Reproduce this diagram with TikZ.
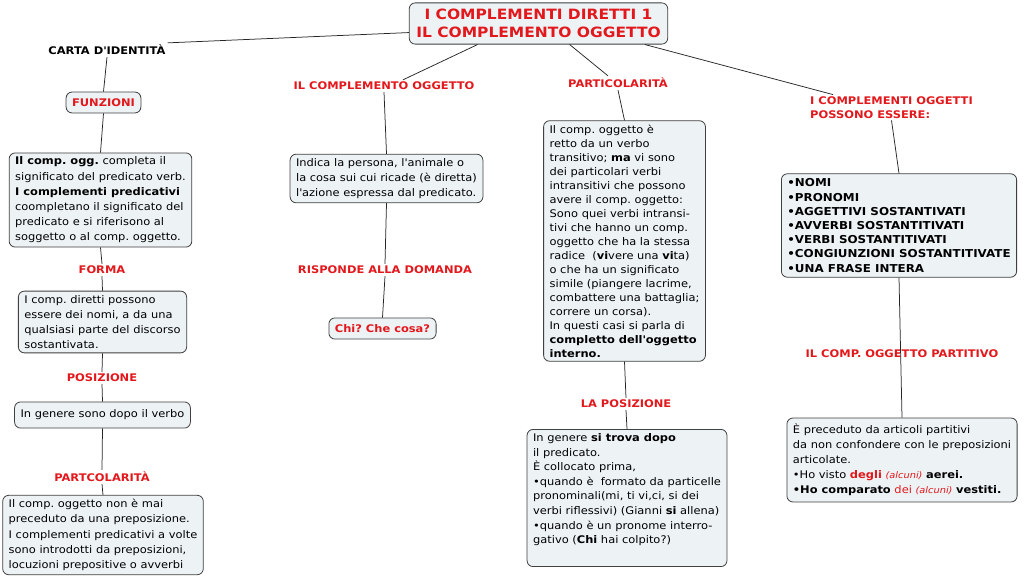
\documentclass[tikz,border=0pt]{standalone}
\usepackage{fontspec}
\setmainfont{DejaVu Sans}[FakeStretch=1.09]
\usetikzlibrary{positioning,calc}
\definecolor{mapred}{RGB}{226,24,28}
\definecolor{boxfill}{RGB}{237,242,245}
\definecolor{boxline}{RGB}{64,64,64}
\newcommand{\ap}{\textquotesingle}

\begin{document}
\frenchspacing
\begin{tikzpicture}[x=1pt,y=-1pt,
  box/.style={draw=boxline, fill=boxfill, rounded corners=6pt, line width=0.8pt,
    align=left, font=\fontsize{10.5}{15.2}\selectfont, inner xsep=6pt, inner ysep=4pt},
  onebox/.style={box, inner ysep=6.5pt},
  lbl/.style={font=\fontsize{10.5}{13.5}\selectfont\bfseries, text=mapred, inner sep=2pt},
  link/.style={draw=black!85, line width=0.75pt}]
\useasboundingbox (0,0) rectangle (1024,578);

% centro
\node[box, align=center, font=\fontsize{14.2}{17.5}\selectfont\bfseries, text=mapred,
  inner ysep=6.5pt, inner xsep=7pt] (title) at (538.5,23.5) {I COMPLEMENTI DIRETTI 1\\IL COMPLEMENTO OGGETTO};

% colonna sinistra
\node[lbl, text=black] (carta) at (107,50) {CARTA D\ap IDENTITÀ};
\node[onebox, font=\fontsize{10.5}{13}\selectfont\bfseries, text=mapred] (funz) at (103.5,102.5) {FUNZIONI};
\node[box] (def) at (100.5,200) {\textbf{Il comp. ogg.} completa il\\significato del predicato verb.\\\textbf{I complementi predicativi}\\coompletano il significato del\\predicato e si riferisono al\\soggetto o al comp. oggetto.};
\node[lbl] (forma) at (102,270) {FORMA};
\node[box] (nomi) at (102.5,322) {I comp. diretti possono\\essere dei nomi, a da una\\qualsiasi parte del discorso\\sostantivata.};
\node[lbl] (posiz) at (102,378) {POSIZIONE};
\node[onebox, inner ysep=8pt] (dopo) at (102.5,415) {In genere sono dopo il verbo};
\node[lbl] (partc) at (102,477) {PARTCOLARITÀ};
\node[box] (prep) at (103,535) {Il comp. oggetto non è mai\\preceduto da una preposizione.\\I complementi predicativi a volte\\sono introdotti da preposizioni,\\locuzioni prepositive o avverbi};

% il complemento oggetto
\node[lbl] (cog) at (384,86) {IL COMPLEMENTO OGGETTO};
\node[box] (indica) at (386.5,178.5) {Indica la persona, l\ap animale o\\la cosa sui cui ricade (è diretta)\\l\ap azione espressa dal predicato.};
\node[lbl] (risp) at (385,270) {RISPONDE ALLA DOMANDA};
\node[onebox, font=\fontsize{10.5}{13}\selectfont\bfseries, text=mapred] (chi) at (382.5,328.5) {Chi? Che cosa?};

% particolarita
\node[lbl] (part) at (618,83) {PARTICOLARITÀ};
\node[box, font=\fontsize{10.5}{14}\selectfont] (retto) at (624.5,241) {Il comp. oggetto è\\retto da un verbo\\transitivo; \textbf{ma} vi sono\\dei particolari verbi\\intransitivi che possono\\avere il comp. oggetto:\\Sono quei verbi intransi-\\tivi che hanno un comp.\\oggetto che ha la stessa\\radice~ (\textbf{vi}vere una \textbf{vi}ta)\\o che ha un significato\\simile (piangere lacrime,\\combattere una battaglia;\\correre un corsa).\\In questi casi si parla di\\\textbf{completto dell\ap oggetto}\\\textbf{interno.}};
\node[lbl] (lapos) at (626,404) {LA POSIZIONE};
\node[box, font=\fontsize{10.5}{14.6}\selectfont] (trova) at (627,498) {In genere \textbf{si trova dopo}\\il predicato.\\È collocato prima,\\•quando è~ formato da particelle\\pronominali(mi, ti vi,ci, si dei\\verbi riflessivi) (Gianni \textbf{si} allena)\\•quando è un pronome interro-\\gativo (\textbf{Chi} hai colpito?)\\\strut};

% possono essere
\node[lbl, align=left, anchor=west] (poss) at (808,107.5) {I COMPLEMENTI OGGETTI\\POSSONO ESSERE:};
\node[box, font=\fontsize{10.9}{14.2}\selectfont\bfseries, inner ysep=5pt] (elenco) at (899,225.5) {•NOMI\\•PRONOMI\\•AGGETTIVI SOSTANTIVATI\\•AVVERBI SOSTANTITIVATI\\•VERBI SOSTANTITIVATI\\•CONGIUNZIONI SOSTANTITIVATE\\•UNA FRASE INTERA};
\node[lbl] (partit) at (902,354) {IL COMP. OGGETTO PARTITIVO};
\node[box, font=\fontsize{10.5}{15}\selectfont, inner ysep=6pt] (artic) at (902,460) {È preceduto da articoli partitivi\\da non confondere con le preposizioni\\articolate.\\•Ho visto \textcolor{mapred}{\textbf{degli}} \textcolor{mapred}{\textit{\fontsize{9}{10}\selectfont(alcuni)}} \textbf{aerei.}\\\textbf{•Ho comparato} \textcolor{mapred}{dei} \textcolor{mapred}{\textit{\fontsize{9}{10}\selectfont(alcuni)}} \textbf{vestiti.}};

% collegamenti
\draw[link] (title.184) -- (carta.north east);
\draw[link] (carta.south) -- (funz.north);
\draw[link] (funz.south) -- (def.north);
\draw[link] (def.south) -- (forma.north);
\draw[link] (forma.south) -- (nomi.north);
\draw[link] (nomi.south) -- (posiz.north);
\draw[link] (posiz.south) -- (dopo.north);
\draw[link] (dopo.south) -- (partc.north);
\draw[link] (partc.south) -- (prep.north);
\draw[link] ($(title.south west)!0.265!(title.south east)$) -- ($(cog.north)+(19,0)$);
\draw[link] (cog.south) -- (indica.north);
\draw[link] (indica.south) -- (risp.north);
\draw[link] (risp.south) -- (chi.north);
\draw[link] ($(title.south west)!0.62!(title.south east)$) -- ($(part.north)+(-10,0)$);
\draw[link] (part.south) -- (retto.north);
\draw[link] (retto.south) -- (lapos.north);
\draw[link] (lapos.south) -- (trova.north);
\draw[link] ($(title.south west)!0.91!(title.south east)$) -- ($(poss.north west)+(25,0)$);
\draw[link] (poss.south) -- (elenco.north);
\draw[link] (elenco.south) -- (artic.north);
\end{tikzpicture}
\end{document}
